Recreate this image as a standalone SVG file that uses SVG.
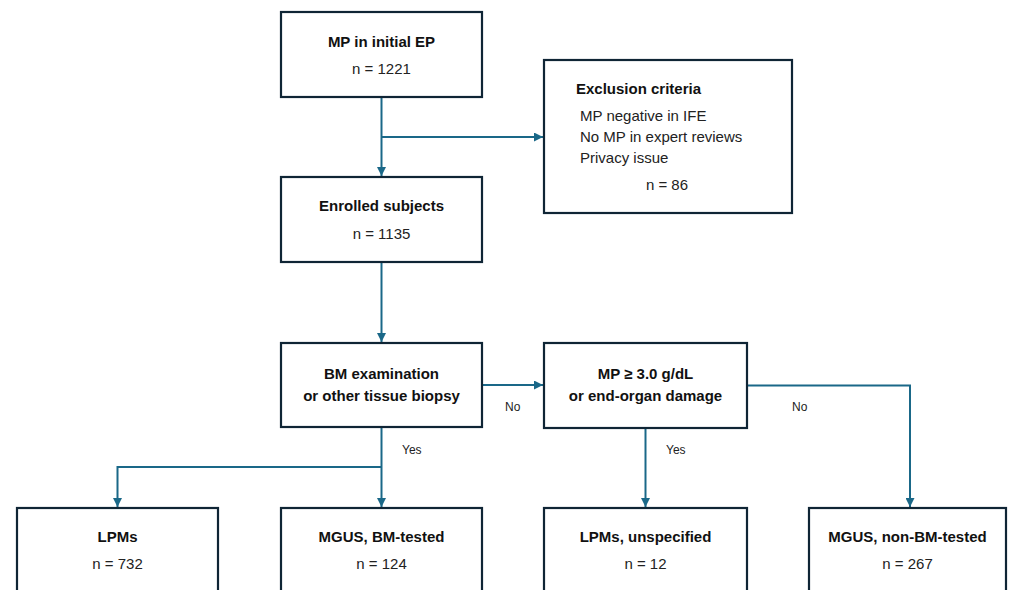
<svg xmlns="http://www.w3.org/2000/svg" width="1011" height="590" viewBox="0 0 1011 590">
<style>
.box{fill:#ffffff;stroke:#0f2535;stroke-width:2.2}
.ln{fill:none;stroke:#1a6888;stroke-width:2}
.t{font-family:"Liberation Sans",Arial,sans-serif;font-size:15px;font-weight:bold;fill:#111;text-anchor:middle}
.n{font-family:"Liberation Sans",Arial,sans-serif;font-size:15px;fill:#222;text-anchor:middle}
.l{font-family:"Liberation Sans",Arial,sans-serif;font-size:15px;fill:#222}
.lab{font-family:"Liberation Sans",Arial,sans-serif;font-size:12px;fill:#222}
</style>
<defs>
<marker id="ah" viewBox="0 0 10 10" refX="10" refY="5" markerWidth="4.5" markerHeight="4.5" orient="auto" markerUnits="strokeWidth">
<path d="M0,0 L10,5 L0,10 z" fill="#1a6888"/>
</marker>
</defs>
<rect width="1011" height="590" fill="#ffffff"/>
<g id="connectors">
<path class="ln" d="M381.5,98 V176" marker-end="url(#ah)"/>
<path class="ln" d="M381.5,137 H543" marker-end="url(#ah)"/>
<path class="ln" d="M381.5,263 V342" marker-end="url(#ah)"/>
<path class="ln" d="M483,385 H543" marker-end="url(#ah)"/>
<path class="ln" d="M748,385.5 H910 V507" marker-end="url(#ah)"/>
<path class="ln" d="M381.5,428 V507" marker-end="url(#ah)"/>
<path class="ln" d="M381.5,467 H117.5 V507" marker-end="url(#ah)"/>
<path class="ln" d="M645.5,429 V507" marker-end="url(#ah)"/>
<text class="lab" x="505" y="411">No</text>
<text class="lab" x="792" y="411">No</text>
<text class="lab" x="402" y="454">Yes</text>
<text class="lab" x="666" y="454">Yes</text>
</g>
<g id="node-initial">
<rect class="box" x="281" y="12" width="201" height="85"/>
<text class="t" x="381.5" y="47">MP in initial EP</text>
<text class="n" x="381.5" y="74">n = 1221</text>
</g>
<g id="node-exclusion">
<rect class="box" x="544" y="60" width="248" height="153"/>
<text class="t" x="576" y="94" style="text-anchor:start">Exclusion criteria</text>
<text class="l" x="580" y="121">MP negative in IFE</text>
<text class="l" x="580" y="142">No MP in expert reviews</text>
<text class="l" x="580" y="163">Privacy issue</text>
<text class="n" x="667" y="190">n = 86</text>
</g>
<g id="node-enrolled">
<rect class="box" x="281" y="177" width="201" height="85"/>
<text class="t" x="381.5" y="211">Enrolled subjects</text>
<text class="n" x="381.5" y="239">n = 1135</text>
</g>
<g id="node-bm">
<rect class="box" x="281" y="343" width="201" height="84"/>
<text class="t" x="381.5" y="379">BM examination</text>
<text class="t" x="381.5" y="401">or other tissue biopsy</text>
</g>
<g id="node-mp">
<rect class="box" x="544" y="343" width="203" height="85"/>
<text class="t" x="645.5" y="379">MP ≥ 3.0 g/dL</text>
<text class="t" x="645.5" y="401">or end-organ damage</text>
</g>
<g id="node-lpms">
<rect class="box" x="17" y="508" width="201" height="100"/>
<text class="t" x="117.5" y="542">LPMs</text>
<text class="n" x="117.5" y="569">n = 732</text>
</g>
<g id="node-mgus-bm">
<rect class="box" x="281" y="508" width="201" height="100"/>
<text class="t" x="381.5" y="542">MGUS, BM-tested</text>
<text class="n" x="381.5" y="569">n = 124</text>
</g>
<g id="node-lpms-unspec">
<rect class="box" x="544" y="508" width="203" height="100"/>
<text class="t" x="645.5" y="542">LPMs, unspecified</text>
<text class="n" x="645.5" y="569">n = 12</text>
</g>
<g id="node-mgus-nonbm">
<rect class="box" x="809" y="508" width="197" height="100"/>
<text class="t" x="907.5" y="542">MGUS, non-BM-tested</text>
<text class="n" x="907.5" y="569">n = 267</text>
</g>
</svg>
